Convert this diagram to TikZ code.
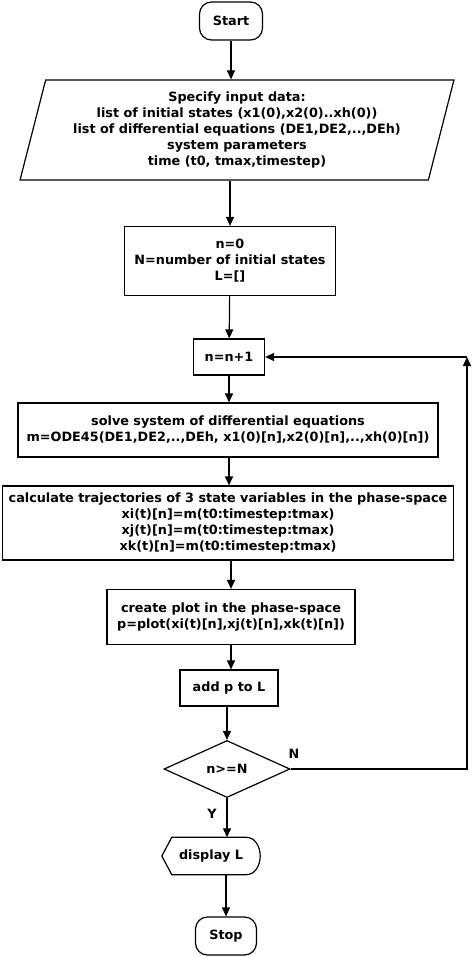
\documentclass[tikz,border=0pt]{standalone}
\usepackage{fontspec}
\setmainfont{DejaVu Sans}
\usetikzlibrary{shapes.geometric,arrows.meta}
\begin{document}
\begin{tikzpicture}[x=1pt,y=-1pt,
  every node/.style={font=\fontsize{12.8}{16}\selectfont\bfseries,align=center},
  box/.style={draw,line width=1.2pt,minimum width=#1,inner sep=0pt},
  arr/.style={-{Triangle[length=9pt,width=8pt]},line width=1.2pt}]
\useasboundingbox (0,0) rectangle (474,957);
\node[box=63pt,minimum height=38pt,rounded corners=12pt] (start) at (231,21) {Start};
\node[trapezium,trapezium left angle=74,trapezium right angle=106,draw,line width=1.2pt,minimum width=435pt,minimum height=100pt,inner sep=0pt,trapezium stretches=true] (in) at (237,130) {Specify input data:\\list of initial states (x1(0),x2(0)..xh(0))\\list of differential equations (DE1,DE2,..,DEh)\\system parameters\\time (t0, tmax,timestep)};
\node[box=211pt,minimum height=69pt] (init) at (230,261) {n=0\\N=number of initial states\\L=[]};
\node[box=71pt,minimum height=36pt] (inc) at (229,357) {n=n+1};
\node[box=420pt,minimum height=54pt] (solve) at (228,430) {solve system of differential equations\\m=ODE45(DE1,DE2,..,DEh, x1(0)[n],x2(0)[n],..,xh(0)[n])};
\node[box=451pt,minimum height=74pt] (calc) at (228,523) {calculate trajectories of 3 state variables in the phase-space\\xi(t)[n]=m(t0:timestep:tmax)\\xj(t)[n]=m(t0:timestep:tmax)\\xk(t)[n]=m(t0:timestep:tmax)};
\node[box=248pt,minimum height=55pt] (plot) at (231,617) {create plot in the phase-space\\p=plot(xi(t)[n],xj(t)[n],xk(t)[n])};
\node[box=98pt,minimum height=36pt] (add) at (229,688) {add p to L};
\node[diamond,draw,line width=1.2pt,aspect=2.2,minimum width=126pt,minimum height=57pt,inner sep=0pt] (dec) at (227,769) {n>=N};
\node[minimum width=98pt,minimum height=37pt,inner sep=0pt] (disp) at (211,856) {display L};
\draw[line width=1.2pt] (disp.west) -- ([xshift=10pt]disp.north west) -- ([xshift=-14pt]disp.north east)
  to[out=0,in=90] (disp.east) to[out=-90,in=0] ([xshift=-14pt]disp.south east) -- ([xshift=10pt]disp.south west) -- cycle;
\node[box=61pt,minimum height=38pt,rounded corners=12pt] (stop) at (226,936) {Stop};
\coordinate (c1) at (467,769);
\coordinate (c2) at (467,357);
\draw[arr] (start) -- (in.north -| start);
\draw[arr] (in.south -| init) -- (init);
\draw[arr] (init) -- (inc);
\draw[arr] (inc) -- (solve.north -| inc);
\draw[arr] (solve.south -| inc) -- (calc.north -| inc);
\draw[arr] (calc.south -| plot) -- (plot);
\draw[arr] (plot) -- (add.north -| plot);
\draw[arr] (add.south -| dec) -- (dec);
\draw[arr] (dec) -- (disp.north -| dec);
\draw[arr] (disp.south -| stop) -- (stop);
\draw[arr] (dec.east) -- (c1) -- (c2);
\draw[arr] (c2) -- (inc.east);
\node at (294,754) {N};
\node at (212,814) {Y};
\end{tikzpicture}
\end{document}
